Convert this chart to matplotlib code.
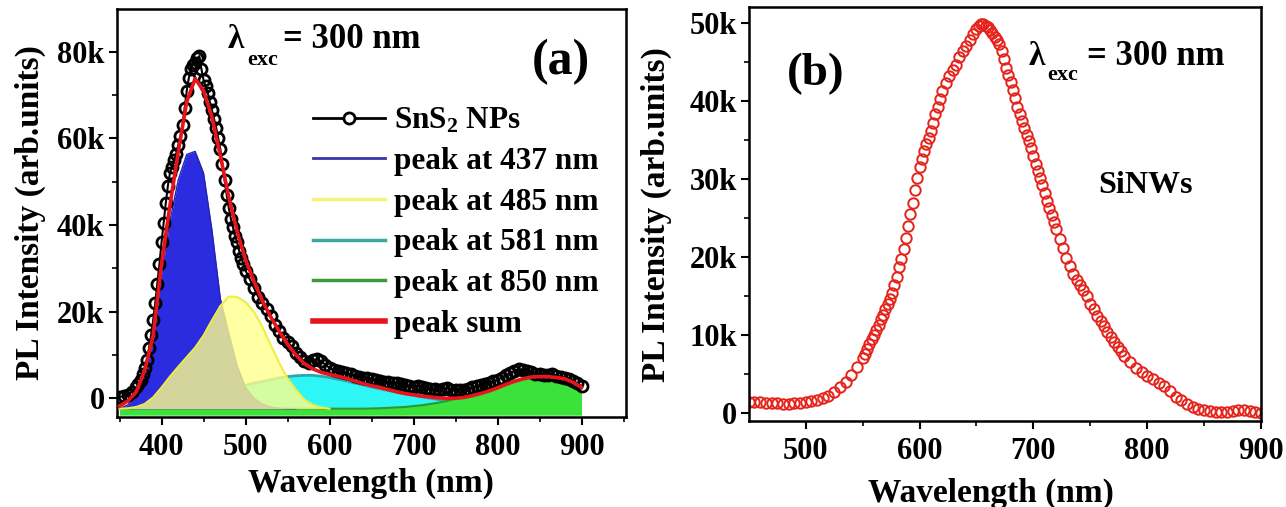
import numpy as np
import matplotlib
matplotlib.use("Agg")
import matplotlib.pyplot as plt
from matplotlib.lines import Line2D
from matplotlib.ticker import FuncFormatter, MultipleLocator

plt.rcParams['font.family'] = ['Liberation Serif', 'DejaVu Serif']
plt.rcParams['font.weight'] = 'bold'
plt.rcParams['mathtext.fontset'] = 'custom'
plt.rcParams['mathtext.rm'] = 'Liberation Serif:bold'
plt.rcParams['mathtext.it'] = 'Liberation Serif:bold'
plt.rcParams['mathtext.bf'] = 'Liberation Serif:bold'

# ---- panel (a): SnS2 NPs, values in thousands (k) ----
wl_a = np.concatenate([np.arange(350, 370, 5), np.arange(370, 502.5, 2.5), np.arange(505, 905, 5)])
sns2_k = [0.3, 0.5, 0.8, 1.5,
          2.5, 3.2, 4.2, 5.5, 7.0, 8.8, 11.5, 14.5, 18.0, 22.0,
          26.5, 31.0, 36.0, 40.5, 45.0, 49.0, 52.0, 53.5, 55.0, 56.5,
          58.5, 60.5, 63.0, 67.0, 71.0, 74.0, 76.0, 77.0, 77.5, 78.5,
          79.0, 76.0, 73.5, 72.0, 70.5, 68.5, 66.5, 64.5, 62.5, 60.0,
          57.5, 54.0, 50.5, 47.0, 44.0, 41.5, 39.5, 37.5, 36.0, 34.0,
          32.5, 31.0, 29.5,
          27.5, 25.5, 23.5, 22.0, 20.5, 19.0, 17.0, 15.5, 14.0, 13.0,
          12.0, 10.5, 9.5, 8.5, 8.2, 8.8, 9.0, 8.5, 7.8, 7.0,
          6.5, 6.2, 6.0, 5.8, 5.5, 5.2, 5.0, 4.8, 4.6, 4.4,
          4.2, 4.0, 3.8, 3.7, 3.6, 3.5, 3.2, 3.0, 2.8, 2.7,
          2.8, 2.6, 2.3, 2.2, 2.1, 2.0, 2.2, 2.4, 2.0, 1.8,
          1.8, 1.9, 2.2, 2.5, 2.8, 3.0, 3.3, 3.6, 3.9, 4.3,
          4.8, 5.3, 5.8, 6.3, 6.8, 6.5, 6.2, 6.0, 5.7, 5.5,
          5.4, 5.3, 5.5, 5.2, 4.9, 4.6, 4.4, 4.0, 3.5, 2.8]

wl_blue = np.arange(350, 570, 10)
peak437 = [-2.4, -1.5, 1.0, 5.0, 13.5, 28.5, 41.0, 50.5, 56.3, 57.0,
           52.0, 38.8, 23.0, 15.0, 7.5, 2.5, 0.0, -1.3, -2.0, -2.3, -2.4, -2.4]

wl_yellow = np.arange(350, 610, 10)
peak485 = [-2.4, -2.3, -2.0, -1.3, 0.2, 2.5, 5.0, 7.3, 9.5, 11.7,
           14.5, 18.0, 21.3, 23.5, 23.4, 22.2, 20.0, 16.5, 12.3, 8.2,
           4.6, 2.0, -0.3, -1.5, -2.1, -2.4]

wl_cyan = np.arange(350, 870, 10)
peak581 = [-2.4, -2.4, -2.4, -2.3, -2.2, -2.0, -1.7, -1.4, -1.0, -0.5,
           0.0, 0.6, 1.2, 1.8, 2.4, 3.0, 3.5, 3.9, 4.3, 4.7,
           5.0, 5.2, 5.3, 5.3, 5.1, 4.8, 4.4, 4.0, 3.5, 3.1,
           2.6, 2.2, 1.8, 1.4, 1.0, 0.7, 0.3, 0.0, -0.3, -0.6,
           -0.9, -1.2, -1.5, -1.7, -1.9, -2.1, -2.2, -2.3, -2.35, -2.4,
           -2.4, -2.4]

wl_green = np.concatenate([[350], np.arange(640, 910, 10)])
peak850 = [-2.4, -2.4,
           -2.35, -2.3, -2.2, -2.1, -2.0, -1.8, -1.6, -1.3, -1.0, -0.6,
           -0.1, 0.4, 1.0, 1.7, 2.3, 2.9, 3.4, 3.9, 4.3, 4.6,
           4.8, 4.8, 4.6, 4.2, 3.4, 2.4]

wl_sum = np.arange(350, 910, 10)
peak_sum = [-1.8, -0.6, 1.5, 6.5, 14.5, 31.0, 44.5, 57.0, 68.5, 73.8,
            71.0, 65.0, 56.0, 46.5, 38.5, 32.0, 27.0, 22.5, 18.8, 15.5,
            12.5, 10.0, 8.0, 6.8, 6.0, 5.5, 5.1, 4.6, 4.0, 3.4,
            2.9, 2.5, 2.0, 1.5, 1.1, 0.8, 0.5, 0.3, 0.1, 0.0,
            0.0, 0.2, 0.6, 1.1, 1.7, 2.4, 3.2, 3.9, 4.5, 4.9,
            5.0, 5.0, 4.8, 4.5, 3.7, 2.5]

# ---- panel (b): SiNWs ----
wl_b = np.concatenate([np.arange(450, 550, 5), np.arange(550, 620, 2), np.arange(620, 650, 3),
                       np.arange(650, 720, 2), np.arange(720, 780, 3), np.arange(780, 905, 5)])
sinw_k = [1.4, 1.4, 1.35, 1.3, 1.3, 1.25, 1.2, 1.2, 1.25, 1.3,
          1.4, 1.55, 1.7, 1.9, 2.2, 2.7, 3.3, 4.0, 4.9, 5.9,
          7.0, 7.6, 8.2, 8.8, 9.5, 10.0, 10.7, 11.3, 12.0, 12.6,
          13.3, 14.0, 14.6, 15.4, 16.4, 17.5, 18.7, 19.8, 21.0, 22.5,
          24.0, 25.5, 27.0, 28.6, 30.1, 31.5, 32.6, 33.6, 34.5, 35.3,
          36.2, 37.2, 38.3, 39.3, 40.3,
          41.3, 42.3, 43.2, 44.0, 44.7, 45.7, 46.5, 47.1, 47.8, 48.6,
          49.3, 49.7, 49.9, 49.9, 49.7, 49.5, 49.2, 48.8, 48.3, 47.8,
          47.3, 46.5, 45.4, 44.3, 43.3, 42.5, 41.5, 40.4, 39.3, 38.4,
          37.5, 36.6, 35.7, 34.9, 34.0, 33.0, 32.0, 31.1, 30.1, 29.2,
          28.2, 27.2, 26.3, 25.4, 24.5,
          23.6, 22.3, 21.1, 19.9, 18.8, 17.8, 17.0, 16.4, 15.8, 15.0,
          14.0, 13.3, 12.5, 11.8, 11.1, 10.4, 9.7, 9.1, 8.5, 7.9,
          7.3, 6.5, 5.8, 5.2, 4.7, 4.3, 3.8, 3.4, 2.8, 2.1,
          1.6, 1.1, 0.8, 0.55, 0.35, 0.2, 0.1, 0.1, 0.15, 0.25,
          0.4, 0.35, 0.25, 0.1, 0.0]

legend_labels = ['SnS$_2$ NPs', 'peak at 437 nm', 'peak at 485 nm',
                 'peak at 581 nm', 'peak at 850 nm', 'peak sum']

kfmt = FuncFormatter(lambda v, p: '0' if v == 0 else '%gk' % v)


def lambda_exc(ax, x_lam, x_sub, x_eq, y_base, y_sub):
    # lambda, a low subscript and the rest, placed as separate pieces
    ax.text(x_lam, y_base, '\u03bb', transform=ax.transAxes, fontsize=24,
            fontweight='bold', ha='left', va='baseline')
    ax.text(x_sub, y_sub, 'exc', transform=ax.transAxes, fontsize=16,
            fontweight='bold', ha='left', va='baseline')
    ax.text(x_eq, y_base, '= 300 nm', transform=ax.transAxes, fontsize=25,
            fontweight='bold', ha='left', va='baseline')


fig = plt.figure(figsize=(12.86, 5.07), dpi=100)
ax1 = fig.add_axes([0.0910, 0.1781, 0.3958, 0.8035])
ax2 = fig.add_axes([0.5827, 0.1702, 0.3979, 0.8154])

base = -2.4
ax1.fill_between(wl_cyan, peak581, base, color='#2ff6f6', lw=0, zorder=2)
ax1.plot(wl_cyan, peak581, color='#2aa8b0', lw=2, zorder=2.1)
ax1.fill_between(wl_green, peak850, -3.9, color='#3ae23a', lw=0, zorder=2.5)
ax1.plot(wl_green, peak850, color='#2a9a2a', lw=1.5, zorder=2.6)
ax1.fill_between(wl_blue, peak437, base, color='#2b2be0', lw=0, zorder=3)
ax1.plot(wl_blue, peak437, color='#2424b0', lw=1, zorder=3.1)
ax1.fill_between(wl_yellow, peak485, base, color='#ffff8c', alpha=0.8, lw=0, zorder=4)
ax1.plot(wl_yellow, peak485, color='#eeee44', lw=1.5, zorder=4.1)
ax1.plot(wl_a, sns2_k, color='black', lw=1.5, marker='o', ms=8, mfc='none',
         mec='black', mew=2, zorder=5)
ax1.plot(wl_sum, peak_sum, color='#e8141b', lw=2.6, zorder=6)

ax1.set_xlim(347, 953)
ax1.set_ylim(-4.25, 89.8)
ax1.xaxis.set_major_locator(MultipleLocator(100))
ax1.xaxis.set_minor_locator(MultipleLocator(50))
ax1.yaxis.set_major_locator(MultipleLocator(20))
ax1.yaxis.set_minor_locator(MultipleLocator(10))
ax1.yaxis.set_major_formatter(kfmt)

handles = [Line2D([], [], color='black', lw=2, marker='o', ms=8, mfc='white', mec='black', mew=2),
           Line2D([], [], color='#3636a8', lw=2),
           Line2D([], [], color='#f4f47a', lw=2.5),
           Line2D([], [], color='#3aa8a0', lw=2.5),
           Line2D([], [], color='#3c9a3c', lw=2.5),
           Line2D([], [], color='#e8141b', lw=4)]
ax1.legend(handles, legend_labels, loc='upper left', bbox_to_anchor=(0.385, 0.762),
           frameon=False, fontsize=22.5, handlelength=2.3, handletextpad=0.3,
           labelspacing=0.37, borderpad=0, borderaxespad=0)

lambda_exc(ax1, 0.218, 0.255, 0.326, 0.905, 0.863)
ax1.text(0.815, 0.84, '(a)', transform=ax1.transAxes, fontsize=36,
         fontweight='bold', ha='left', va='baseline')

ax2.plot(wl_b, sinw_k, ls='none', marker='o', ms=7.5, mfc='none', mec='#e5231b', mew=1.4)
ax2.set_xlim(450.5, 900)
ax2.set_ylim(-1.0, 52.05)
ax2.xaxis.set_major_locator(MultipleLocator(100))
ax2.xaxis.set_minor_locator(MultipleLocator(50))
ax2.yaxis.set_major_locator(MultipleLocator(10))
ax2.yaxis.set_minor_locator(MultipleLocator(5))
ax2.yaxis.set_major_formatter(kfmt)

ax2.text(0.073, 0.812, '(b)', transform=ax2.transAxes, fontsize=34,
         fontweight='bold', ha='left', va='baseline')
lambda_exc(ax2, 0.545, 0.582, 0.660, 0.860, 0.824)
ax2.text(0.681, 0.551, 'SiNWs', transform=ax2.transAxes, fontsize=23,
         fontweight='bold', ha='left', va='baseline')

for ax in (ax1, ax2):
    for s in ax.spines.values():
        s.set_linewidth(1.8)
    ax.tick_params(which='major', direction='out', length=6, width=1.5,
                   labelsize=22, pad=3)
    ax.tick_params(which='minor', direction='out', length=3.5, width=1.2)
    ax.tick_params(axis='x', which='major', pad=6)
    ax.set_xlabel('Wavelength (nm)', fontsize=24, fontweight='bold')
    ax.set_ylabel('PL Intensity (arb.units)', fontsize=24, fontweight='bold')

ax1.xaxis.set_label_coords(0.499, -0.126)
ax1.yaxis.set_label_coords(-0.139, 0.5)
ax2.xaxis.set_label_coords(0.473, -0.139)
ax2.yaxis.set_label_coords(-0.151, 0.4976)

fig.savefig('out.png', dpi=100)
